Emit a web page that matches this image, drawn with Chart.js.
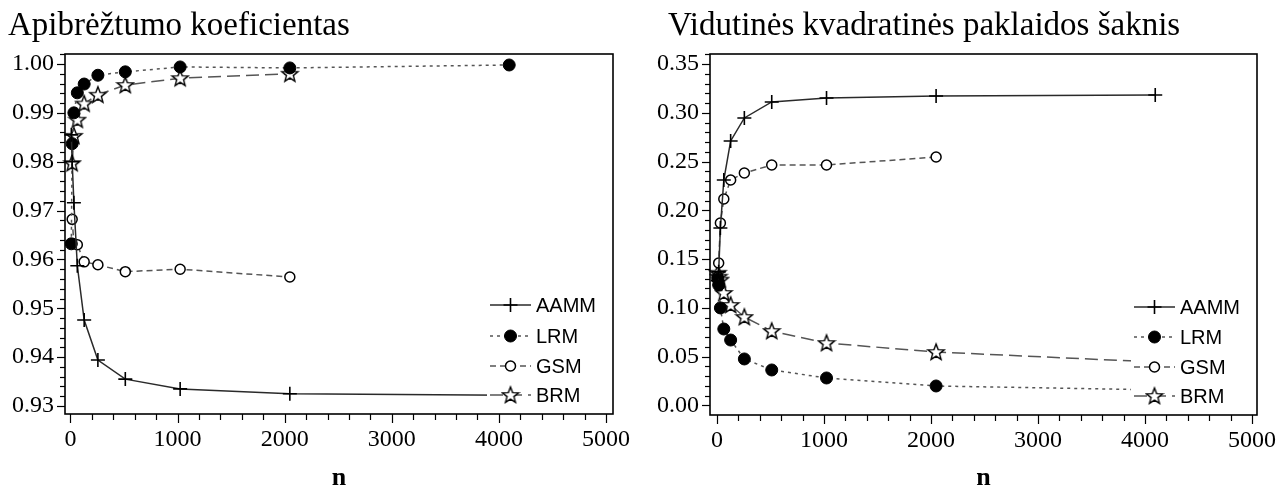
<!DOCTYPE html>
<html><head><meta charset="utf-8">
<script src="https://cdn.jsdelivr.net/npm/chart.js@4.4.1/dist/chart.umd.min.js"></script>
<style>
html,body{margin:0;padding:0;background:#fff;}
body{width:1288px;height:493px;position:relative;overflow:hidden;}
.box{position:absolute;top:0;}
</style></head><body>
<div class="box" style="left:0;width:640px;height:493px"><canvas id="c1" width="640" height="493"></canvas></div>
<div class="box" style="left:640px;width:648px;height:493px"><canvas id="c2" width="648" height="493"></canvas></div>
<script>
// ---- data ----
const N = [8, 16, 32, 64, 128, 256, 512, 1024, 2048, 4096];
const seriesNames = ['AAMM', 'LRM', 'GSM', 'BRM'];

// Apibrėžtumo koeficientas (left)
const r2AAMM = [0.9855, 0.9800, 0.9716, 0.9587, 0.9476, 0.9394, 0.9355, 0.9335, 0.9325, 0.9322];
const r2LRM  = [0.9632, 0.9837, 0.9900, 0.9941, 0.9959, 0.9977, 0.9984, 0.9994, 0.9992, 0.9998];
const r2GSM  = [null, 0.9682, 0.9632, 0.9630, 0.9595, 0.9589, 0.9575, 0.9580, 0.9564, null];
const r2BRM  = [null, 0.9797, 0.9853, 0.9886, 0.9919, 0.9937, 0.9957, 0.9971, 0.9980, null];

// Vidutinės kvadratinės paklaidos šaknis (right)
const rmseAAMM = [0.128, 0.137, 0.1819, 0.2311, 0.2711, 0.2947, 0.3111, 0.3152, 0.3172, 0.3182];
const rmseLRM  = [0.130, 0.1235, 0.1000, 0.0784, 0.0671, 0.0477, 0.0364, 0.0282, 0.0200, 0.0160];
const rmseGSM  = [0.132, 0.146, 0.187, 0.2116, 0.2311, 0.2383, 0.2465, 0.2465, 0.2547, null];
const rmseBRM  = [0.136, 0.132, 0.1290, 0.1153, 0.1030, 0.0907, 0.0763, 0.0640, 0.0548, 0.0446];

const titleLeft = 'Apibrėžtumo koeficientas';
const titleRight = 'Vidutinės kvadratinės paklaidos šaknis';
const xTitle = 'n';
const xMajorTicks = [0, 1000, 2000, 3000, 4000, 5000];
const yMajorLeft = [0.93, 0.94, 0.95, 0.96, 0.97, 0.98, 0.99, 1.00];
const yMajorRight = [0.00, 0.05, 0.10, 0.15, 0.20, 0.25, 0.30, 0.35];

// ---- styles ----
function makeStar() {
  const c = document.createElement('canvas');
  c.width = 20; c.height = 20;
  const g = c.getContext('2d');
  g.beginPath();
  for (let i = 0; i < 10; i++) {
    const r = i % 2 === 0 ? 8.5 : 3.6;
    const a = -Math.PI / 2 + i * Math.PI / 5;
    const x = 10 + r * Math.cos(a), y = 10.5 + r * Math.sin(a);
    if (i === 0) g.moveTo(x, y); else g.lineTo(x, y);
  }
  g.closePath();
  g.fillStyle = '#fff'; g.fill();
  g.lineWidth = 1.4; g.strokeStyle = '#000'; g.stroke();
  return c;
}
const star = makeStar();

const styles = {
  AAMM: {dash: [], line: '#2a2a2a', pointStyle: 'cross', radius: 7, bg: '#000', bw: 1.6},
  LRM:  {dash: [3, 4], line: '#555', pointStyle: 'circle', radius: 6, bg: '#000', bw: 1},
  GSM:  {dash: [6, 4], line: '#555', pointStyle: 'circle', radius: 5, bg: '#fff', bw: 1.5},
  BRM:  {dash: [13, 6], line: '#555', pointStyle: star, radius: 9, bg: '#fff', bw: 1.4}
};

function ds(name, vals) {
  const s = styles[name];
  return {
    label: name,
    data: N.map((n, i) => ({x: n, y: vals[i]})),
    borderColor: s.line, borderWidth: 1.5, borderDash: s.dash,
    pointStyle: s.pointStyle, pointRadius: s.radius, pointHoverRadius: s.radius,
    pointBackgroundColor: s.bg, pointBorderColor: '#000', pointBorderWidth: s.bw,
    tension: 0, fill: false, spanGaps: false, clip: false
  };
}

const near = (arr, v) => arr.find(t => Math.abs(t - v) < 1e-7);

const decorPlugin = {
  id: 'decor',
  afterDraw(chart, args, o) {
    const ctx = chart.ctx, a = chart.chartArea;
    const xs = chart.scales.x, ys = chart.scales.y;
    ctx.save();
    ctx.strokeStyle = '#000';
    ctx.lineWidth = 1.2;
    xs.ticks.forEach(t => {
      const p = Math.round(xs.getPixelForValue(t.value)) + 0.5;
      const major = near(xMajorTicks, t.value) !== undefined;
      ctx.beginPath(); ctx.moveTo(p, a.bottom); ctx.lineTo(p, a.bottom + (major ? 9 : 6)); ctx.stroke();
    });
    ys.ticks.forEach(t => {
      const p = Math.round(ys.getPixelForValue(t.value)) + 0.5;
      const major = near(o.yMajor, t.value) !== undefined;
      ctx.beginPath(); ctx.moveTo(a.left, p); ctx.lineTo(a.left - (major ? 8 : 5), p); ctx.stroke();
    });

    // title
    ctx.fillStyle = '#000';
    ctx.font = '33px "Liberation Serif", "Times New Roman", serif';
    ctx.textBaseline = 'alphabetic';
    ctx.textAlign = 'left';
    ctx.fillText(o.title, o.titleX, 35);

    // legend (opaque box inside the plot)
    const lx0 = a.right - 126;
    const ly0 = a.bottom - o.legendRows[0] - 13;
    ctx.fillStyle = '#fff';
    ctx.fillRect(lx0, ly0, a.right - lx0 - 1, a.bottom - ly0 - 2);
    chart.data.datasets.forEach((d, i) => {
      const y = a.bottom - o.legendRows[i];
      const x0 = a.right - 123, x1 = a.right - 82, xc = (x0 + x1) / 2;
      ctx.save();
      ctx.strokeStyle = d.borderColor; ctx.lineWidth = 1.5;
      ctx.setLineDash(d.borderDash);
      ctx.beginPath(); ctx.moveTo(x0, y); ctx.lineTo(x1, y); ctx.stroke();
      ctx.setLineDash([]);
      ctx.fillStyle = d.pointBackgroundColor; ctx.strokeStyle = '#000'; ctx.lineWidth = d.pointBorderWidth;
      Chart.helpers.drawPoint(ctx, {pointStyle: d.pointStyle, radius: d.pointRadius, rotation: 0, borderWidth: d.pointBorderWidth}, xc, y);
      ctx.restore();
      ctx.fillStyle = '#000';
      ctx.font = '20px "Liberation Sans", Arial, sans-serif';
      ctx.textBaseline = 'middle';
      ctx.fillText(d.label, a.right - 77, y + 1);
    });

    ctx.strokeStyle = '#000';
    ctx.lineWidth = 1.6;
    ctx.strokeRect(a.left, a.top, a.right - a.left, a.bottom - a.top);
    ctx.restore();
  }
};

function makeChart(id, sets, o) {
  const tickFont = {family: '"Liberation Serif", "Times New Roman", serif', size: 24};
  return new Chart(document.getElementById(id), {
    type: 'line',
    data: {datasets: sets},
    options: {
      responsive: false, animation: false, devicePixelRatio: 1,
      layout: {padding: {top: 54, right: o.padRight, bottom: 0, left: 0}},
      plugins: {legend: {display: false}, tooltip: {enabled: false}, title: {display: false}, decor: o},
      scales: {
        x: {
          type: 'linear', min: o.xMin, max: o.xMax,
          afterFit: s => { s.height = o.xHeight; },
          border: {display: false},
          grid: {display: true, drawOnChartArea: false, drawTicks: true, tickLength: 9, color: 'rgba(0,0,0,0)'},
          ticks: {stepSize: 200, includeBounds: false, autoSkip: false, maxRotation: 0, color: '#000', font: tickFont, padding: 2,
            callback: v => { const m = near(xMajorTicks, v); return m === undefined ? '' : String(m); }},
          title: {display: true, text: xTitle, color: '#000', padding: {top: 0, bottom: 2},
            font: {family: '"Liberation Serif", "Times New Roman", serif', size: 26, weight: 'bold', lineHeight: 1}}
        },
        y: {
          type: 'linear', min: o.yMin, max: o.yMax,
          afterFit: s => { s.width = o.yWidth; },
          border: {display: false},
          grid: {display: true, drawOnChartArea: false, drawTicks: true, tickLength: 8, color: 'rgba(0,0,0,0)'},
          ticks: {stepSize: o.yStep, includeBounds: false, autoSkip: false, color: '#000', font: tickFont, padding: 3,
            callback: v => { const m = near(o.yMajor, v); return m === undefined ? '' : m.toFixed(2); }}
        }
      }
    },
    plugins: [decorPlugin]
  });
}

makeChart('c1', [ds('AAMM', r2AAMM), ds('LRM', r2LRM), ds('GSM', r2GSM), ds('BRM', r2BRM)], {
  title: titleLeft, titleX: 8, yMajor: yMajorLeft, yStep: 0.002,
  yMin: 0.92836, yMax: 1.00205, xMin: -51, xMax: 5065,
  yWidth: 65, xHeight: 79, padRight: 27, legendRows: [109, 78, 48, 19]
});
makeChart('c2', [ds('AAMM', rmseAAMM), ds('LRM', rmseLRM), ds('GSM', rmseGSM), ds('BRM', rmseBRM)], {
  title: titleRight, titleX: 28, yMajor: yMajorRight, yStep: 0.01,
  yMin: -0.00974, yMax: 0.36025, xMin: -65, xMax: 5047,
  yWidth: 70, xHeight: 78, padRight: 31, legendRows: [108, 78, 48, 19]
});
</script>
</body></html>
